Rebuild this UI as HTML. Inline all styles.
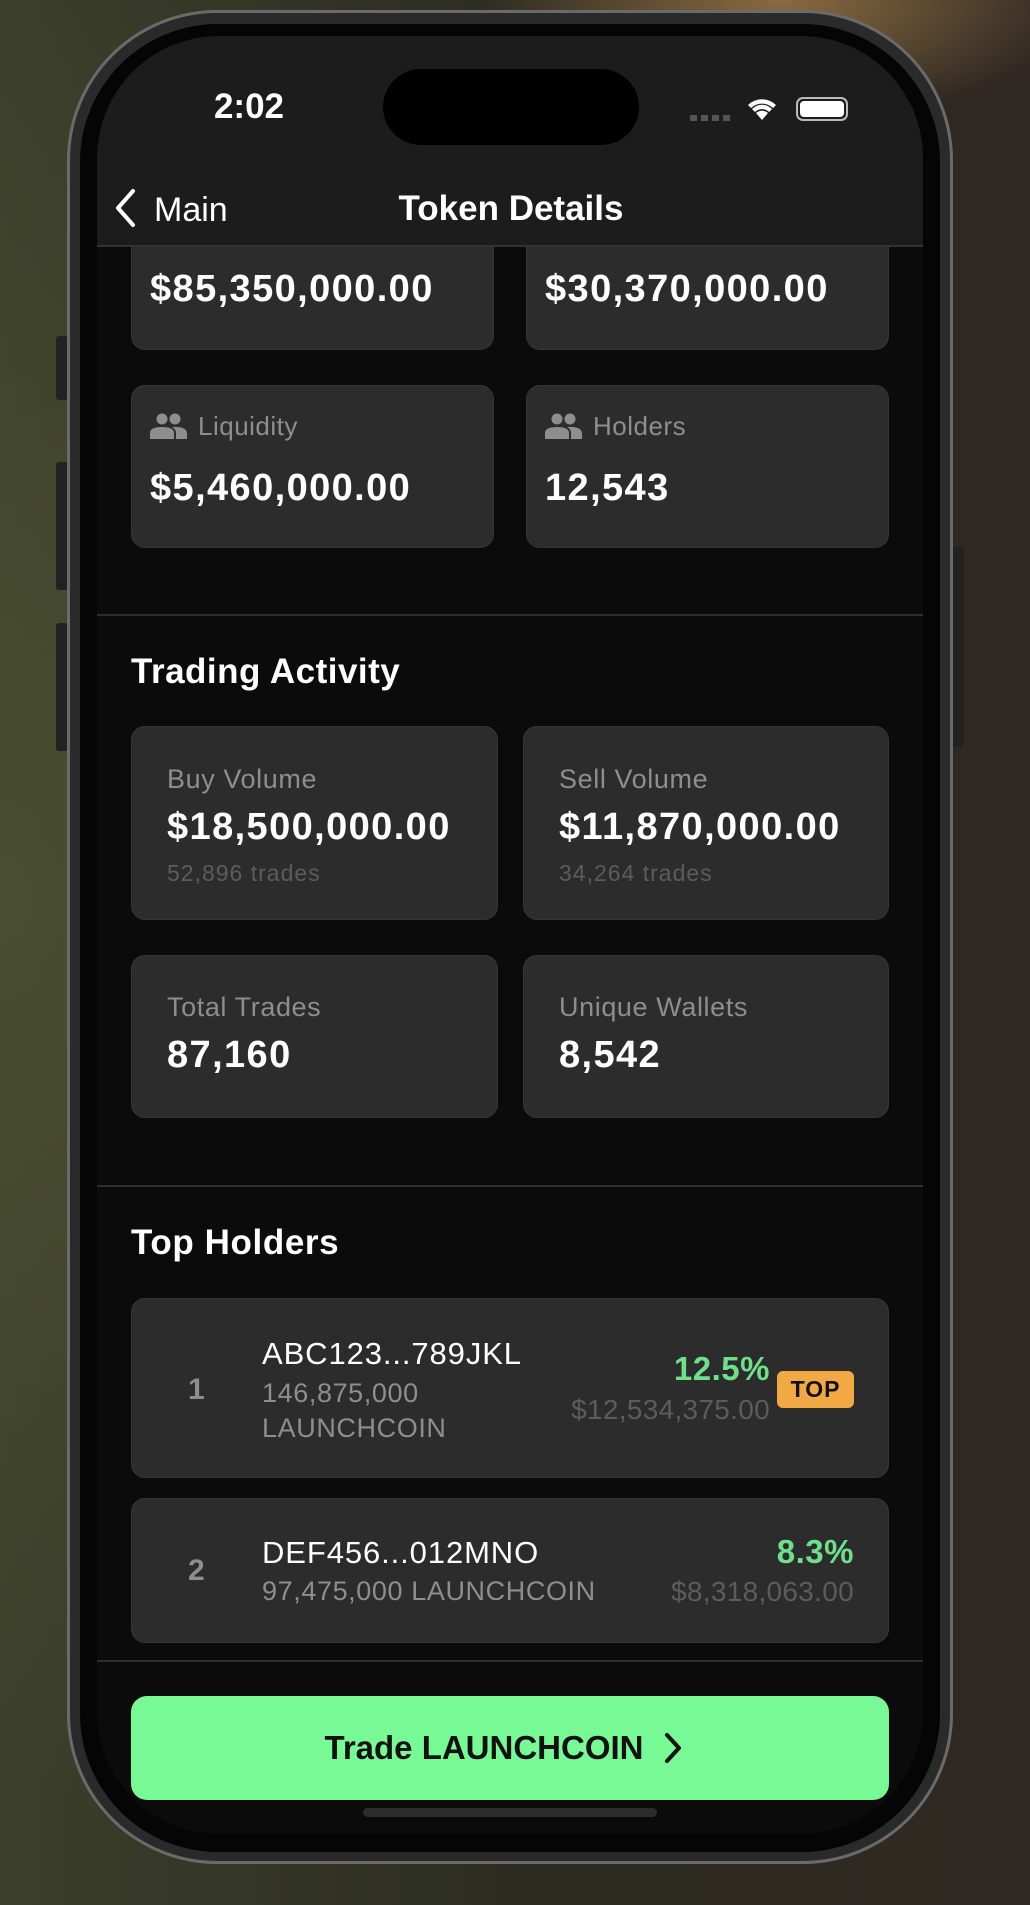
<!DOCTYPE html>
<html><head><meta charset="utf-8"><style>
*{margin:0;padding:0;box-sizing:border-box}
body{width:1030px;height:1905px;overflow:hidden;font-family:"Liberation Sans",sans-serif;position:relative;
background:radial-gradient(ellipse 300px 120px at 780px 0px,#8a6a40 0%,rgba(120,90,50,0) 100%),
radial-gradient(ellipse 700px 900px at 0px 900px,#4a4e30 0%,rgba(60,62,40,0) 100%),
linear-gradient(90deg,#3b3f2a 0%,#2c2c22 50%,#302822 100%);}
.abs{position:absolute}
.phone{left:67px;top:10px;width:886px;height:1854px;border-radius:150px;background:#2a2a2a;border:3px solid #6a6a6a}
.bezel{left:80px;top:24px;width:860px;height:1828px;border-radius:138px;background:#050505}
.screen{left:97px;top:36px;width:826px;height:1798px;border-radius:122px;background:#0b0b0b;overflow:hidden}
.card{position:absolute;background:#2c2c2c;border:1px solid #363636;border-radius:14px}
.t{position:absolute;white-space:nowrap;line-height:1}
.val{color:#fff;font-weight:bold;font-size:38px;letter-spacing:1.4px}
.lab{color:#8e8e8e;font-size:27px;letter-spacing:0.6px}
.div{position:absolute;left:0;width:826px;height:2px;background:#2e2e2e}
.side{background:#222;border-radius:3px}
</style></head><body>
<div class="abs side" style="left:56px;top:336px;width:12px;height:64px"></div>
<div class="abs side" style="left:56px;top:462px;width:12px;height:128px"></div>
<div class="abs side" style="left:56px;top:623px;width:12px;height:128px"></div>
<div class="abs side" style="left:952px;top:547px;width:12px;height:200px"></div>
<div class="abs phone"></div>
<div class="abs bezel"></div>
<div class="abs screen">
  <div class="card" style="left:34px;top:200px;width:363px;height:114px;border-top:none;border-radius:0 0 14px 14px">
    <div class="t val" style="left:18px;top:34px">$85,350,000.00</div></div>
  <div class="card" style="left:429px;top:200px;width:363px;height:114px;border-top:none;border-radius:0 0 14px 14px">
    <div class="t val" style="left:18px;top:34px">$30,370,000.00</div></div>

  <div class="abs" style="left:0;top:0;width:826px;height:211px;background:#1c1c1c;border-bottom:2px solid #333"></div>
  <div class="t" style="left:107px;top:53px;color:#fff;font-size:35px;font-weight:bold;width:90px;text-align:center">2:02</div>
  <div class="abs" style="left:286px;top:33px;width:256px;height:76px;border-radius:38px;background:#000"></div>
  <div class="abs" style="left:593px;top:79px;width:40px;height:6px;background:repeating-linear-gradient(90deg,#555 0 7px,transparent 7px 11px)"></div>
  <svg class="abs" style="left:648px;top:58px" width="34" height="26" viewBox="0 0 34 26"><path d="M17 26 L11 19 A9 9 0 0 1 23 19Z M3 11 A20 20 0 0 1 31 11 L28 14 A16 16 0 0 0 6 14Z M7 15 A14 14 0 0 1 27 15 L24 18 A10 10 0 0 0 10 18Z" fill="#fff"/></svg>
  <div class="abs" style="left:699px;top:61px;width:52px;height:24px;border:2px solid #bbb;border-radius:7px;padding:2px"><div style="width:100%;height:100%;background:#fff;border-radius:4px"></div></div>
  <div class="abs" style="left:14px;top:148px;width:110px;height:48px">
    <svg class="abs" style="left:3px;top:5px" width="22" height="38" viewBox="0 0 22 38"><path d="M19 2 L4 19 L19 36" stroke="#fff" stroke-width="4" fill="none" stroke-linecap="round" stroke-linejoin="round"/></svg>
    <div class="t" style="left:43px;top:9px;color:#fff;font-size:34px">Main</div>
  </div>
  <div class="t" style="left:0;width:828px;text-align:center;top:155px;color:#fff;font-size:35px;font-weight:bold">Token Details</div>

  <div class="card" style="left:34px;top:349px;width:363px;height:163px">
    <svg class="abs" style="left:18px;top:27px" width="38" height="26" viewBox="0 0 38 26"><circle cx="12" cy="6" r="5.5" fill="#8e8e8e"/><circle cx="25" cy="6" r="5.5" fill="#8e8e8e"/><path d="M0 26 V20 Q0 14 12 14 Q24 14 24 20 V26Z M26 26 V20 Q26 16 22 14 Q36 13 37 20 V26Z" fill="#8e8e8e"/></svg>
    <div class="t" style="left:66px;top:27px;color:#8e8e8e;font-size:26px;letter-spacing:.5px">Liquidity</div>
    <div class="t val" style="left:18px;top:83px">$5,460,000.00</div></div>
  <div class="card" style="left:429px;top:349px;width:363px;height:163px">
    <svg class="abs" style="left:18px;top:27px" width="38" height="26" viewBox="0 0 38 26"><circle cx="12" cy="6" r="5.5" fill="#8e8e8e"/><circle cx="25" cy="6" r="5.5" fill="#8e8e8e"/><path d="M0 26 V20 Q0 14 12 14 Q24 14 24 20 V26Z M26 26 V20 Q26 16 22 14 Q36 13 37 20 V26Z" fill="#8e8e8e"/></svg>
    <div class="t" style="left:66px;top:27px;color:#8e8e8e;font-size:26px;letter-spacing:.5px">Holders</div>
    <div class="t val" style="left:18px;top:83px">12,543</div></div>

  <div class="div" style="top:578px"></div>
  <div class="t" style="left:34px;top:618px;color:#fff;font-size:35px;font-weight:bold;letter-spacing:.5px">Trading Activity</div>

  <div class="card" style="left:34px;top:690px;width:367px;height:194px">
    <div class="t lab" style="left:35px;top:39px">Buy Volume</div>
    <div class="t val" style="left:35px;top:81px">$18,500,000.00</div>
    <div class="t" style="left:35px;top:135px;color:#5c5c5c;font-size:23px;letter-spacing:1px">52,896 trades</div></div>
  <div class="card" style="left:426px;top:690px;width:366px;height:194px">
    <div class="t lab" style="left:35px;top:39px">Sell Volume</div>
    <div class="t val" style="left:35px;top:81px">$11,870,000.00</div>
    <div class="t" style="left:35px;top:135px;color:#5c5c5c;font-size:23px;letter-spacing:1px">34,264 trades</div></div>
  <div class="card" style="left:34px;top:919px;width:367px;height:163px">
    <div class="t lab" style="left:35px;top:38px">Total Trades</div>
    <div class="t val" style="left:35px;top:80px">87,160</div></div>
  <div class="card" style="left:426px;top:919px;width:366px;height:163px">
    <div class="t lab" style="left:35px;top:38px">Unique Wallets</div>
    <div class="t val" style="left:35px;top:80px">8,542</div></div>

  <div class="div" style="top:1149px"></div>
  <div class="t" style="left:34px;top:1189px;color:#fff;font-size:35px;font-weight:bold;letter-spacing:.6px">Top Holders</div>

  <div class="card" style="left:34px;top:1262px;width:758px;height:180px">
    <div class="t" style="left:56px;top:76px;color:#8e8e8e;font-size:30px;font-weight:bold">1</div>
    <div class="t" style="left:130px;top:39px;color:#fff;font-size:31px;letter-spacing:.9px">ABC123...789JKL</div>
    <div class="t" style="left:130px;top:81px;color:#8e8e8e;font-size:27px;letter-spacing:.6px">146,875,000</div>
    <div class="t" style="left:130px;top:116px;color:#8e8e8e;font-size:27px;letter-spacing:.6px">LAUNCHCOIN</div>
    <div class="t" style="right:118px;top:53px;color:#6fe08a;font-size:33px;font-weight:bold;letter-spacing:.5px">12.5%</div>
    <div class="t" style="right:118px;top:97px;color:#5c5c5c;font-size:28px;letter-spacing:.3px">$12,534,375.00</div>
    <div class="abs" style="left:645px;top:72px;width:77px;height:37px;background:#f2a944;border-radius:6px;color:#111;font-weight:bold;font-size:23px;text-align:center;line-height:37px;letter-spacing:1px">TOP</div></div>
  <div class="card" style="left:34px;top:1462px;width:758px;height:145px">
    <div class="t" style="left:56px;top:57px;color:#8e8e8e;font-size:30px;font-weight:bold">2</div>
    <div class="t" style="left:130px;top:38px;color:#fff;font-size:31px;letter-spacing:.9px">DEF456...012MNO</div>
    <div class="t" style="left:130px;top:79px;color:#8e8e8e;font-size:27px;letter-spacing:.6px">97,475,000 LAUNCHCOIN</div>
    <div class="t" style="right:34px;top:36px;color:#6fe08a;font-size:33px;font-weight:bold;letter-spacing:.5px">8.3%</div>
    <div class="t" style="right:34px;top:79px;color:#5c5c5c;font-size:28px;letter-spacing:.3px">$8,318,063.00</div></div>

  <div class="div" style="top:1624px"></div>
  <div class="abs" style="left:34px;top:1660px;width:758px;height:104px;background:#77f995;border-radius:16px">
    <div class="t" style="left:0;width:706px;text-align:center;top:35px;color:#111;font-size:33px;font-weight:bold">Trade LAUNCHCOIN</div>
    <svg class="abs" style="left:532px;top:36px" width="20" height="32" viewBox="0 0 20 32"><path d="M4 3 L16 16 L4 29" stroke="#111" stroke-width="4" fill="none" stroke-linecap="round" stroke-linejoin="round"/></svg></div>
  <div class="abs" style="left:266px;top:1772px;width:294px;height:9px;border-radius:5px;background:#2c2c2c"></div>
</div>
</body></html>
